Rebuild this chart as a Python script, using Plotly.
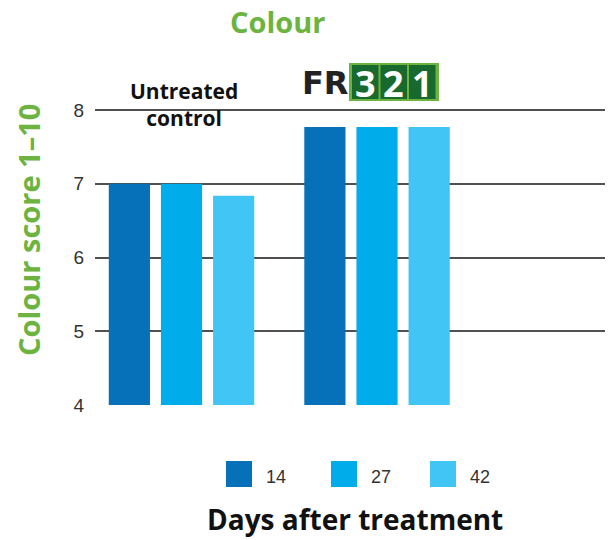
import plotly.graph_objects as go

groups = ["Untreated control", "FR321"]
days = ["14", "27", "42"]
scores_14 = [7.0, 7.77]
scores_27 = [7.0, 7.77]
scores_42 = [6.84, 7.77]
series = [scores_14, scores_27, scores_42]
colors = ["#0670b8", "#00adea", "#41c5f4"]
yticks = [4, 5, 6, 7, 8]

GREEN = "#6db33f"
DKGREEN = "#17692d"

W, H = 611, 540
L, R, T, B = 95, 605, 88, 405


def px(x):
    return (x - L) / (R - L)


def py(y):
    return (B - y) / (B - T)


fig = go.Figure()
for name, vals, col in zip(days, series, colors):
    fig.add_trace(go.Bar(x=[0, 1], y=vals, name=name, marker=dict(color=col, line=dict(width=0)),
                         showlegend=False))

shapes = []
annotations = []


def ann(text, x, y, size, color, family="Open Sans", **kw):
    d = dict(text=text, x=px(x), y=py(y), xref="paper", yref="paper", showarrow=False,
             xanchor=kw.pop("xanchor", "center"), yanchor="middle",
             font=dict(family=family, size=size, color=color))
    d.update(kw)
    annotations.append(d)


ann("<b>Colour</b>", 277, 21, 29, GREEN)
ann("<b>Colour score 1–10</b>", 28, 230, 29, GREEN, textangle=-90)
ann("<b>Days after treatment</b>", 355, 519, 28, "#111111")
ann("<b>Untreated<br>control</b>", 184, 104, 21, "#111111", align="center")

# FR321 logo
ann("<b>FR</b>", 325, 83, 32, "#222222", family="DejaVu Sans")
shapes.append(dict(type="rect", xref="paper", yref="paper", x0=px(349), x1=px(439), y0=py(101), y1=py(63),
                   fillcolor=GREEN, line=dict(width=0), layer="above"))
for i, d in enumerate(["3", "2", "1"]):
    x0 = 352 + i * 28.5
    shapes.append(dict(type="rect", xref="paper", yref="paper", x0=px(x0), x1=px(x0 + 26.5),
                       y0=py(99), y1=py(65), fillcolor=DKGREEN, line=dict(width=0), layer="above"))
    ann("<b>" + d + "</b>", x0 + 13.25, 83, 36, "white")

# legend
leg_sq = [226, 331, 430]
for name, col, xs in zip(days, colors, leg_sq):
    shapes.append(dict(type="rect", xref="paper", yref="paper", x0=px(xs), x1=px(xs + 26),
                       y0=py(487), y1=py(461), fillcolor=col, line=dict(width=0)))
    ann(name, xs + 38, 477, 18, "#333333", family="Liberation Sans", xanchor="left")

fig.update_layout(
    width=W, height=H,
    margin=dict(l=L, r=W - R, t=T, b=H - B, pad=0),
    paper_bgcolor="white", plot_bgcolor="white",
    barmode="group", bargap=0.2, bargroupgap=0.21,
    shapes=shapes, annotations=annotations,
    showlegend=False,
    xaxis=dict(range=[-0.4425, 2.166], showticklabels=False, showgrid=False, zeroline=False,
               ticks="", fixedrange=True),
    yaxis=dict(range=[4, 8.3], tickvals=yticks, ticktext=[str(v) for v in yticks],
               showgrid=True, gridcolor="#505050", gridwidth=1.5, zeroline=False,
               tickfont=dict(family="Liberation Sans", size=19, color="#333333"),
               ticks="", ticklabelstandoff=10),
)

fig.write_html("out.html", post_script="document.body.style.margin='0';",
               config={"displayModeBar": False})
